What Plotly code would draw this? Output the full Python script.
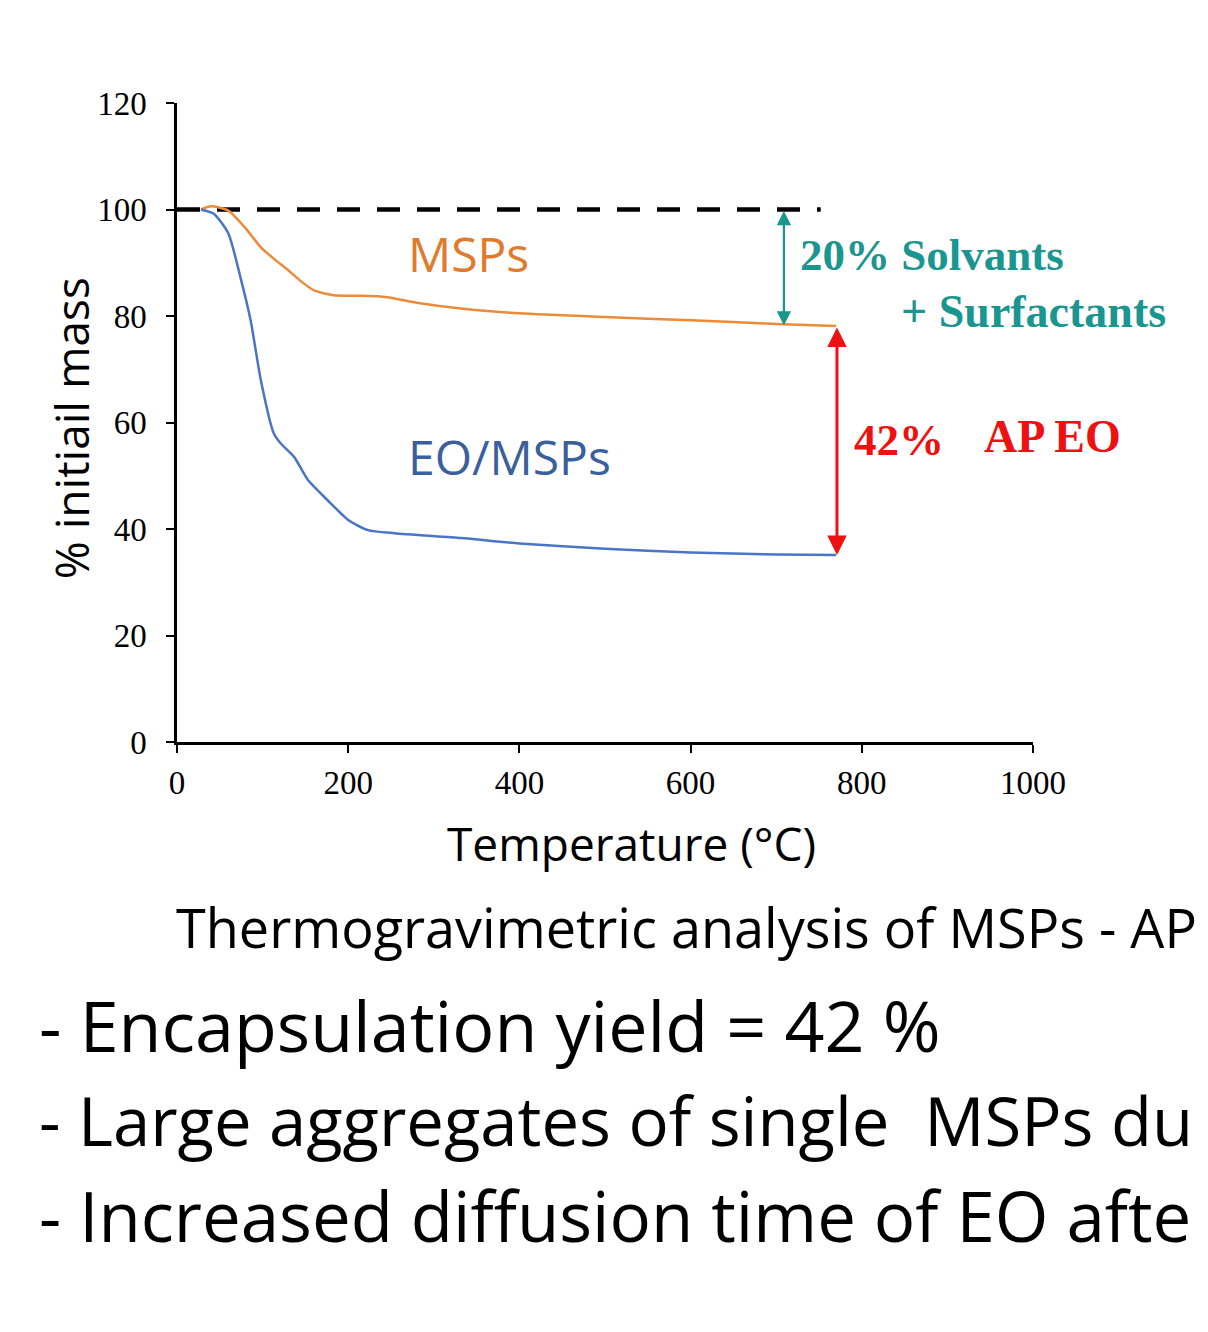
import plotly.graph_objects as go

# ---- data ----
temp_msps = [28, 40, 60, 80, 98, 115, 130, 145, 160, 183, 210, 235, 246, 280, 332, 400, 500, 600, 700, 770]
mass_msps = [100, 100.6, 99.8, 96.5, 92.9, 90.5, 88.6, 86.5, 84.8, 83.9, 83.8, 83.7, 83.5, 82.5, 81.4, 80.5, 79.8, 79.2, 78.5, 78.1]

temp_eo = [28, 43, 60, 75, 86, 98, 113, 121, 137, 153, 176, 200, 223, 254, 332, 400, 500, 600, 700, 770]
mass_eo = [100, 99.2, 95.5, 86.7, 79.2, 67.9, 58.0, 56.1, 53.5, 49.2, 45.4, 41.7, 39.8, 39.2, 38.3, 37.3, 36.3, 35.6, 35.2, 35.1]

ref_temp = [0, 752]
ref_mass = [100, 100]

x_ticks = [0, 200, 400, 600, 800, 1000]
y_ticks = [0, 20, 40, 60, 80, 100, 120]

solv_arrow_x = 709
solv_top, solv_bottom = 100, 78.2
eo_arrow_x = 771
eo_top, eo_bottom = 78.1, 35.1

ORANGE = "#ec8a3a"
BLUE = "#4a74c6"
TEAL = "#1a9690"
RED = "#ee1111"
SANS = "Open Sans"
SERIF = "Liberation Serif"

fig = go.Figure()
fig.add_trace(go.Scatter(x=ref_temp, y=ref_mass, mode="lines",
                         line=dict(color="black", width=4.5, dash="23px,17px"), hoverinfo="skip"))
fig.add_trace(go.Scatter(x=temp_msps, y=mass_msps, mode="lines", name="MSPs",
                         line=dict(color=ORANGE, width=2.5, shape="spline", smoothing=0.6)))
fig.add_trace(go.Scatter(x=temp_eo, y=mass_eo, mode="lines", name="EO/MSPs",
                         line=dict(color=BLUE, width=2.5, shape="spline", smoothing=0.6)))

# double headed arrows
for xa, y0, y1, col, w in [(solv_arrow_x, solv_top, solv_bottom, TEAL, 2.2),
                           (eo_arrow_x, eo_top, eo_bottom, RED, 3)]:
    fig.add_annotation(x=xa, y=y1, ax=xa, ay=y0, xref="x", yref="y", axref="x", ayref="y",
                       text="", showarrow=True, arrowhead=2, arrowside="end+start",
                       arrowsize=1.3, arrowwidth=w, arrowcolor=col)

# in-plot labels
fig.add_annotation(x=341, y=91.8, xref="x", yref="y", text="MSPs", showarrow=False,
                   xanchor="center", yanchor="middle",
                   font=dict(family=SANS, size=48, color="#e07a2c"))
fig.add_annotation(x=389, y=53.7, xref="x", yref="y", text="EO/MSPs", showarrow=False,
                   xanchor="center", yanchor="middle",
                   font=dict(family=SANS, size=48, color="#3a5f9c"))
fig.add_annotation(x=726, y=91.5, xref="x", yref="y", text="<b>20% Solvants</b>", showarrow=False,
                   xanchor="left", yanchor="middle", font=dict(family=SERIF, size=45, color=TEAL))
fig.add_annotation(x=843, y=80.9, xref="x", yref="y", text="<b>+ Surfactants</b>", showarrow=False,
                   xanchor="left", yanchor="middle", font=dict(family=SERIF, size=46, color=TEAL))
fig.add_annotation(x=788, y=56.7, xref="x", yref="y", text="<b>42%</b>", showarrow=False,
                   xanchor="left", yanchor="middle", font=dict(family=SERIF, size=45, color=RED))
fig.add_annotation(x=940, y=57.3, xref="x", yref="y", text="<b>AP EO</b>", showarrow=False,
                   xanchor="left", yanchor="middle", font=dict(family=SERIF, size=46, color=RED))

# axis titles
fig.add_annotation(x=-0.1238, y=0.491, xref="paper", yref="paper", text="% initiail mass",
                   xanchor="center", yanchor="middle",
                   showarrow=False, textangle=-90, font=dict(family=SANS, size=46, color="black"))
fig.add_annotation(x=0.531, y=-0.158, xref="paper", yref="paper", text="Temperature (°C)",
                   xanchor="center", yanchor="middle",
                   showarrow=False, font=dict(family=SANS, size=46, color="black"))

# caption and bullets (text as visible in the reference)
fig.add_annotation(x=-0.004, y=-0.2895, xref="paper", yref="paper", xanchor="left", yanchor="middle",
                   text="Thermogravimetric analysis of MSPs - AP", showarrow=False,
                   font=dict(family=SANS, size=54, color="black"))
bullets = ["- Encapsulation yield = 42 %",
           "- Large aggregates of single  MSPs du",
           "- Increased diffusion time of EO afte"]
bullet_sizes = [70, 67, 69]
for i, (b, s) in enumerate(zip(bullets, bullet_sizes)):
    fig.add_annotation(x=-0.1635, y=-0.4429 - 0.1487 * i, xref="paper", yref="paper",
                       xanchor="left", yanchor="middle",
                       text=b, showarrow=False, font=dict(family=SANS, size=s, color="black"))

fig.update_layout(
    width=1208, height=1332,
    margin=dict(l=169, r=183, t=95, b=598),
    paper_bgcolor="white", plot_bgcolor="white",
    showlegend=False,
    xaxis=dict(range=[0, 1000], tickvals=x_ticks, showgrid=False, zeroline=False,
               showline=True, linecolor="black", linewidth=2.5,
               ticks="outside", ticklen=8, tickwidth=2, tickcolor="black",
               ticklabelstandoff=2,
               tickfont=dict(family=SERIF, size=33, color="black")),
    yaxis=dict(range=[0, 120], tickvals=y_ticks, showgrid=False, zeroline=False,
               showline=True, linecolor="black", linewidth=2.5,
               ticks="outside", ticklen=8, tickwidth=2, tickcolor="black",
               ticklabelstandoff=13,
               tickfont=dict(family=SERIF, size=33, color="black")),
)

fig.write_html("out.html")
